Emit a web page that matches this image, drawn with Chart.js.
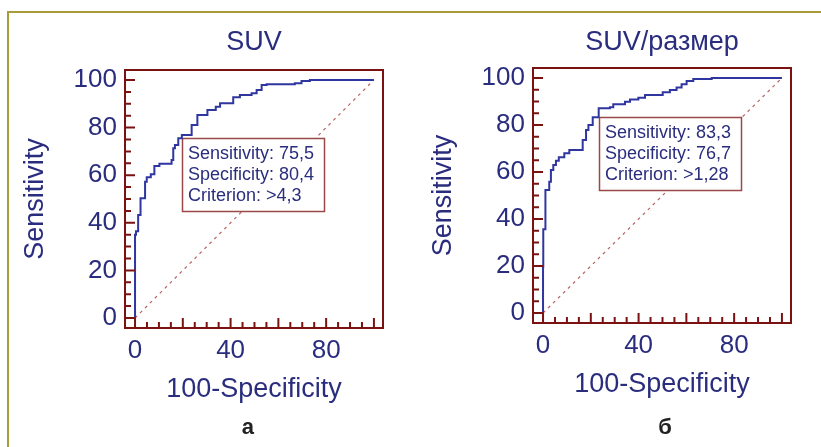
<!DOCTYPE html>
<html lang="ru">
<head>
  <meta charset="UTF-8" />
  <title>ROC SUV</title>
  <script src="https://cdn.jsdelivr.net/npm/chart.js"></script>
  <style>
    html, body {
      margin: 0;
      background: #fff;
      overflow: hidden;
    }
    .frame {
      position: absolute;
      left: 7px;
      top: 11px;
      width: 812px;
      height: 434px;
      border-left: 2px solid #a89c3a;
      border-top: 2px solid #a89c3a;
    }
    canvas {
      position: absolute;
      top: 0;
    }
    #rocSuv { left: 0; }
    #rocRatio { left: 410px; }
  </style>
</head>
<body>
  <div class="frame"></div>
  <canvas id="rocSuv" width="410" height="447"></canvas>
  <canvas id="rocRatio" width="411" height="447"></canvas>

  <script>
    // SUV: 100-Specificity / Sensitivity corners of the ROC step curve
    const suvX = [0, 0, 0.4, 1.3, 2.3, 4.2, 4.9, 6.6, 8.1, 10.2, 15.3, 16.0, 16.7, 18.1, 19.6, 23.7, 26.1, 30.3, 33.8, 35.6, 41.1, 43.9, 48.8, 50.9, 53.0, 55.1, 66.9, 69.7, 73.2, 80.2, 100];
    const suvY = [0, 11.9, 35.0, 36.4, 43.3, 50.3, 57.3, 59.1, 60.4, 63.9, 64.8, 66.4, 71.3, 72.7, 75.5, 76.9, 81.1, 85.3, 87.4, 88.8, 90.2, 92.7, 93.7, 94.4, 95.8, 97.9, 98.2, 98.6, 99.6, 100, 100];

    // SUV/размер
    const ratioX = [0, 0.1, 1.0, 2.6, 3.3, 4.3, 5.4, 6.6, 8.9, 11.0, 16.6, 18.0, 19.0, 20.8, 23.3, 28.0, 29.4, 34.3, 36.4, 39.9, 42.7, 50.1, 53.1, 55.9, 58.0, 60.1, 62.9, 70.6, 81.0, 100];
    const ratioY = [0, 19.7, 35.6, 52.3, 55.9, 60.9, 63.0, 64.8, 66.3, 68.0, 69.4, 73.6, 77.9, 80.0, 83.3, 87.1, 87.6, 88.8, 89.9, 90.9, 91.6, 92.8, 93.9, 94.9, 95.9, 97.3, 98.7, 99.6, 100, 100];

    // reference diagonal
    const diagX = [0, 100];
    const diagY = [0, 100];

    // axis ticks
    const tickValues = [0, 5, 10, 15, 20, 25, 30, 35, 40, 45, 50, 55, 60, 65, 70, 75, 80, 85, 90, 95, 100];
    const xLabels = [0, 40, 80];
    const yLabels = [0, 20, 40, 60, 80, 100];

    // optimal criterion
    const suvSens = 75.5, suvSpec = 80.4, suvCrit = '>4,3';
    const ratioSens = 83.3, ratioSpec = 76.7, ratioCrit = '>1,28';

    const NAVY = '#2a2d7e';
    const CURVE = '#2f36a0';
    const MAROON = '#7a1212';
    const FONT = '"Liberation Sans", Arial, sans-serif';

    const comma = v => String(v).replace('.', ',');
    const toPoints = (xs, ys) => xs.map((x, i) => ({ x: x, y: ys[i] }));

    const rocDecor = {
      id: 'rocDecor',
      // stats box sits above the diagonal but under the curve
      afterDatasetDraw(chart, args, opts) {
        if (args.index !== 1) return;
        const { ctx, scales: { x, y } } = chart;
        const bx = Math.round(x.getPixelForValue(100 - opts.spec));
        const by = Math.round(y.getPixelForValue(opts.sens));
        ctx.save();
        ctx.fillStyle = '#fff';
        ctx.fillRect(bx, by, 142, 73);
        ctx.strokeStyle = '#9a4848';
        ctx.lineWidth = 1.5;
        ctx.strokeRect(bx + 0.5, by + 0.5, 142, 73);
        ctx.fillStyle = NAVY;
        ctx.font = '18px ' + FONT;
        ctx.textBaseline = 'middle';
        opts.lines.forEach((t, i) => ctx.fillText(t, bx + 6, by + 16 + i * 21));
        ctx.restore();
      },
      afterDraw(chart) {
        const { ctx, chartArea: a, scales: { x, y } } = chart;
        ctx.save();
        ctx.strokeStyle = MAROON;
        ctx.lineWidth = 2;
        ctx.beginPath();
        x.ticks.forEach(t => {
          const px = x.getPixelForValue(t.value);
          ctx.moveTo(px, a.bottom);
          ctx.lineTo(px, a.bottom - (t.value % 20 === 0 ? 10 : 6));
        });
        y.ticks.forEach(t => {
          const py = y.getPixelForValue(t.value);
          ctx.moveTo(a.left, py);
          ctx.lineTo(a.left + (t.value % 20 === 0 ? 10 : 6), py);
        });
        ctx.stroke();
        ctx.strokeRect(a.left, a.top, a.width, a.height);
        ctx.restore();
      }
    };

    function makeRoc(id, c) {
      const tickFont = { family: FONT, size: 26, weight: 'normal', lineHeight: 1.2 };
      const textFont = { family: FONT, size: 27, weight: 'normal', lineHeight: 1.2 };
      return new Chart(document.getElementById(id), {
        type: 'scatter',
        data: {
          datasets: [
            {
              data: toPoints(c.xs, c.ys),
              showLine: true,
              stepped: 'after',
              borderColor: CURVE,
              borderWidth: 2,
              pointRadius: 0
            },
            {
              data: toPoints(diagX, diagY),
              showLine: true,
              borderColor: '#b66262',
              borderWidth: 1.2,
              borderDash: [3, 4],
              pointRadius: 0
            }
          ]
        },
        options: {
          responsive: false,
          animation: false,
          layout: { padding: { left: c.padLeft, right: c.padRight, top: 0, bottom: 0 } },
          plugins: {
            legend: { display: false },
            tooltip: { enabled: false },
            title: {
              display: true,
              text: c.title,
              fullSize: false,
              color: NAVY,
              font: textFont,
              padding: { top: c.titleTop, bottom: c.titleBottom }
            },
            subtitle: {
              display: true,
              position: 'bottom',
              text: c.letter,
              fullSize: false,
              color: '#222',
              font: { family: FONT, size: 22, weight: 'bold', lineHeight: 1.2 },
              padding: { top: 0, bottom: 6 }
            },
            rocDecor: {
              sens: c.sens,
              spec: c.spec,
              lines: ['Sensitivity: ' + comma(c.sens), 'Specificity: ' + comma(c.spec), 'Criterion: ' + c.crit]
            }
          },
          scales: {
            x: {
              type: 'linear',
              min: -4.2,
              max: 103.8,
              afterBuildTicks: s => { s.ticks = tickValues.map(v => ({ value: v })); },
              afterFit: s => { s.height = c.xHeight; },
              grid: { display: false, drawTicks: false },
              border: { display: false },
              ticks: {
                autoSkip: false,
                maxRotation: 0,
                padding: c.xTickPad,
                color: NAVY,
                font: tickFont,
                callback: v => xLabels.includes(v) ? String(v) : ''
              },
              title: {
                display: true,
                text: '100-Specificity',
                color: NAVY,
                font: textFont,
                padding: { top: 0, bottom: c.xTitlePad }
              }
            },
            y: {
              type: 'linear',
              min: c.yMin,
              max: c.yMax,
              afterBuildTicks: s => { s.ticks = tickValues.map(v => ({ value: v })); },
              afterFit: s => { s.width = c.yWidth; },
              grid: { display: false, drawTicks: false },
              border: { display: false },
              ticks: {
                autoSkip: false,
                padding: 8,
                color: NAVY,
                font: tickFont,
                callback: v => yLabels.includes(v) ? String(v) : ''
              },
              title: {
                display: true,
                text: 'Sensitivity',
                color: NAVY,
                font: textFont,
                padding: { top: 13.8, bottom: 0 }
              }
            }
          }
        },
        plugins: [rocDecor]
      });
    }

    makeRoc('rocSuv', {
      xs: suvX, ys: suvY, title: 'SUV', letter: 'а  ',
      sens: suvSens, spec: suvSpec, crit: suvCrit,
      padLeft: 6, padRight: 27, titleTop: 26.8, titleBottom: 10.8,
      xHeight: 86.6, xTickPad: 7.5, xTitlePad: 8.4, yWidth: 119,
      yMin: -4.2, yMax: 104.2
    });

    makeRoc('rocRatio', {
      xs: ratioX, ys: ratioY, title: 'SUV/размер', letter: ' б',
      sens: ratioSens, spec: ratioSpec, crit: ratioCrit,
      padLeft: 3.5, padRight: 30, titleTop: 26.8, titleBottom: 8.8,
      xHeight: 91.6, xTickPad: 7.4, xTitlePad: 13.4, yWidth: 119.5,
      yMin: -4.25, yMax: 104.25
    });
  </script>
</body>
</html>
